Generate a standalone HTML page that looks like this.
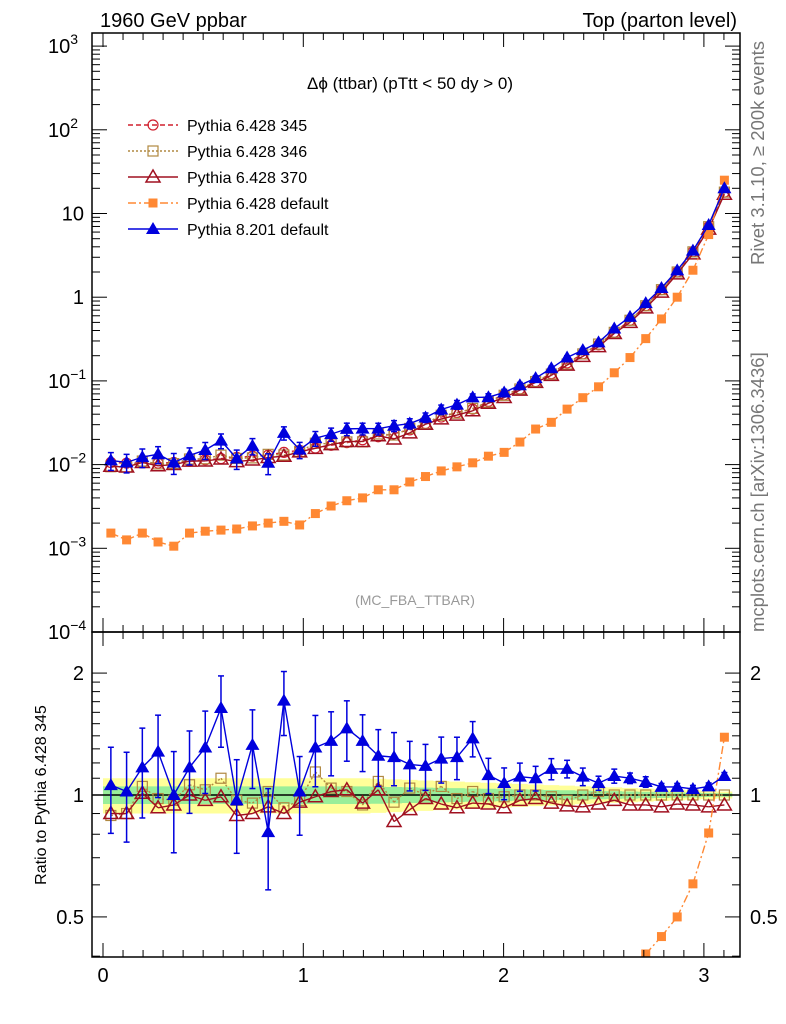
<!DOCTYPE html>
<html><head><meta charset="utf-8"><style>
html,body{margin:0;background:#fff;overflow:hidden;width:786px;height:1024px;}
svg{display:block;}
svg text{font-family:"Liberation Sans",sans-serif;}
</style></head><body>
<svg id="chart" width="786" height="1024" xmlns="http://www.w3.org/2000/svg">
<defs>
<clipPath id="cm"><rect x="92" y="33" width="648" height="599"/></clipPath>
<clipPath id="cr"><rect x="92" y="632" width="648" height="325"/></clipPath>
</defs>
<text x="100" y="27" font-size="20">1960 GeV ppbar</text>
<text x="737" y="27" font-size="20" text-anchor="end">Top (parton level)</text>
<text x="410" y="89" font-size="17" text-anchor="middle">Δϕ (ttbar) (pTtt &lt; 50 dy &gt; 0)</text>
<text x="415" y="605" font-size="14" fill="#999" text-anchor="middle">(MC_FBA_TTBAR)</text>
<text transform="translate(764,265) rotate(-90)" font-size="18.5" fill="#777">Rivet 3.1.10, ≥ 200k events</text>
<text transform="translate(764,632) rotate(-90)" font-size="18.5" fill="#777">mcplots.cern.ch [arXiv:1306.3436]</text>
<text transform="translate(46,795) rotate(-90)" font-size="16" text-anchor="middle">Ratio to Pythia 6.428 345</text>
<g id="g"></g>
</svg>
<script>
const ref345=[0.0106,0.0104,0.0105,0.0104,0.0106,0.011,0.0114,0.0118,0.0122,0.0126,0.013,0.014,0.0148,0.0158,0.017,0.0183,0.0198,0.0215,0.0235,0.026,0.031,0.037,0.042,0.046,0.057,0.068,0.080,0.098,0.122,0.164,0.21,0.27,0.38,0.53,0.79,1.23,2.0,3.48,6.95,18];
const r346=[0.89,0.90,1.05,0.98,0.97,1.06,1.03,1.1,0.97,0.955,1.02,0.93,0.97,1.14,1.04,1.02,0.945,1.08,0.96,1.04,1.0,1.05,0.98,1.02,0.98,0.99,1.0,1.0,0.99,0.97,1.0,1.02,1.0,1.0,1.0,1.0,1.0,1.0,1.0,1.0];
const r370=[0.9,0.9,1.01,0.93,0.945,1.0,0.97,0.99,0.89,0.9,0.935,0.9,0.96,0.99,1.02,1.03,0.955,1.03,0.86,0.92,0.98,0.95,0.93,0.955,0.95,0.93,0.97,0.98,0.955,0.94,0.935,0.95,0.97,0.945,0.945,0.935,0.95,0.945,0.935,0.945];
const rBlue=[1.058,1.02,1.17,1.28,1.0,1.17,1.31,1.64,0.97,1.33,0.81,1.71,1.02,1.31,1.36,1.46,1.36,1.25,1.24,1.19,1.18,1.23,1.24,1.38,1.12,1.07,1.11,1.10,1.16,1.16,1.11,1.07,1.114,1.10,1.077,1.047,1.047,1.035,1.05,1.114];
const eBlue=[0.24,0.25,0.25,0.23,0.28,0.23,0.23,0.2,0.26,0.22,0.28,0.18,0.22,0.2,0.18,0.17,0.16,0.16,0.15,0.14,0.13,0.13,0.12,0.1,0.1,0.09,0.08,0.07,0.06,0.05,0.05,0.04,0.04,0.03,0.03,0.02,0.02,0.02,0.02,0.02];
const orange=[0.00152,0.00126,0.00152,0.00119,0.00106,0.00152,0.0016,0.00165,0.0017,0.00185,0.002,0.0021,0.0019,0.0026,0.0032,0.0037,0.004,0.005,0.005,0.0062,0.0072,0.0084,0.0094,0.0105,0.0126,0.014,0.0186,0.0266,0.032,0.046,0.063,0.085,0.125,0.19,0.32,0.55,1.0,2.1,5.6,25];
const xTicks=[0,1,2,3];
const NS="http://www.w3.org/2000/svg";
const G=document.getElementById('g');
const X0=92,X1=740,MT=33,MB=632,RT=632,RB=957;
const xs=v=>103+v*200.3;
const ym=v=>632-(Math.log10(v)+4)*83.7;
const yr=v=>795-Math.log10(v)*405;
const N=ref345.length, bw=Math.PI/N;
const cx=i=>(i+0.5)*bw;
function el(t,a,p){const e=document.createElementNS(NS,t);for(const k in a)e.setAttribute(k,a[k]);(p||G).appendChild(e);return e;}
const gm=el('g',{'clip-path':'url(#cm)'});
const gr=el('g',{'clip-path':'url(#cr)'});
let yu='',yl='',gu='',gl='';
for(let i=0;i<N;i++){const w=i<16?0.1:Math.max(0.02,0.1-(i-16)*0.0035);
 const a=xs(i*bw),b=xs((i+1)*bw);
 yu+=`${a},${yr(1+w)} ${b},${yr(1+w)} `;yl=`${b},${yr(1-w)} ${a},${yr(1-w)} `+yl;
 gu+=`${a},${yr(1+w/2)} ${b},${yr(1+w/2)} `;gl=`${b},${yr(1-w/2)} ${a},${yr(1-w/2)} `+gl;}
let p=el('polygon',{points:yu+yl,fill:'#ffff99'},gr);


p=el('polygon',{points:gu+gl,fill:'#99ee99'},gr);


p=el('line',{x1:X0,x2:X1,y1:yr(1),y2:yr(1),stroke:'#000','stroke-width':1.5},gr);


function marker(kind,x,y,col,parent){
 if(kind==='circle')return el('circle',{cx:x,cy:y,r:5,fill:'none',stroke:col,'stroke-width':1.2},parent);
 if(kind==='sq')return el('rect',{x:x-5,y:y-5,width:10,height:10,fill:'none',stroke:col,'stroke-width':1.2},parent);
 if(kind==='fsq')return el('rect',{x:x-4.5,y:y-4.5,width:9,height:9,fill:col},parent);
 if(kind==='tri')return el('polygon',{points:`${x},${y-7} ${x-7},${y+5} ${x+7},${y+5}`,fill:'none',stroke:col,'stroke-width':1.5},parent);
 return el('polygon',{points:`${x},${y-7} ${x-7},${y+5} ${x+7},${y+5}`,fill:col},parent);
}
function clipSeg(x1,y1,x2,y2,t,b){
 const in1=y1>=t&&y1<=b,in2=y2>=t&&y2<=b;
 if(!in1&&!in2)return null;
 const f=(yy)=>{const lim=yy<t?t:b;return [x1+(x2-x1)*(lim-y1)/(y2-y1),lim];};
 let A=[x1,y1],B=[x2,y2];
 if(!in1){const lim=y1<t?t:b;A=[x1+(x2-x1)*(lim-y1)/(y2-y1),lim];}
 if(!in2){const lim=y2<t?t:b;B=[x1+(x2-x1)*(lim-y1)/(y2-y1),lim];}
 return [A,B];
}
const series=[
 {n:'pythia6-345',col:'#d0202f',dash:'5,3',m:'circle',main:ref345,ratio:null},
 {n:'pythia6-346',col:'#b08840',dash:'2,2',m:'sq',main:ref345.map((v,i)=>v*r346[i]),ratio:r346},
 {n:'pythia6-370',col:'#a01020',dash:'',m:'tri',main:ref345.map((v,i)=>v*r370[i]),ratio:r370},
 {n:'pythia6-default',col:'#ff8833',dash:'8,3,2,3',m:'fsq',main:orange,ratio:orange.map((v,i)=>v/ref345[i])},
 {n:'pythia8-default',col:'#0000dd',dash:'',m:'ftri',main:ref345.map((v,i)=>v*rBlue[i]),ratio:rBlue,err:eBlue}
];
series.forEach(s=>{
 [[gm,s.main,ym,'main',MT,MB],[gr,s.ratio,yr,'ratio',RT,RB]].forEach(([par,arr,yf,pn,T,B])=>{
  if(!arr)return;
  const g=el('g',{},par);
  
  
  for(let i=0;i<arr.length-1;i++){
   const c=clipSeg(xs(cx(i)),yf(arr[i]),xs(cx(i+1)),yf(arr[i+1]),T,B);
   if(!c)continue;
   const a={x1:c[0][0],y1:c[0][1],x2:c[1][0],y2:c[1][1],stroke:s.col,'stroke-width':1.4};if(s.dash)a['stroke-dasharray']=s.dash;
   el('line',a,g);
  }
  arr.forEach((v,i)=>{
   const x=xs(cx(i)),y=yf(v);
   if(y<T||y>B)return;
   if(s.err){const e=s.err[i];const yt=Math.max(T,yf(v*(1+e))),yb=Math.min(B,yf(v*(1-e)));
     el('line',{x1:x,x2:x,y1:yt,y2:yb,stroke:s.col,'stroke-width':1.5},g);
     el('line',{x1:x-3,x2:x+3,y1:yt,y2:yt,stroke:s.col,'stroke-width':1.5},g);
     el('line',{x1:x-3,x2:x+3,y1:yb,y2:yb,stroke:s.col,'stroke-width':1.5},g);}
   const mk=marker(s.m,x,y,s.col,g);
   
   
  });
 });
});
[[MT,MB],[RT,RB]].forEach(([t,b],k)=>{
 const f=el('rect',{x:X0,y:t,width:X1-X0,height:b-t,fill:'none',stroke:'#000','stroke-width':1.5});
 
 
 for(let v=0;v<=3.15;v+=0.1){const x=xs(v);const maj=Math.abs(v-Math.round(v))<1e-6;const L=maj?14:7;
  el('line',{x1:x,x2:x,y1:b,y2:b-L,stroke:'#000'});el('line',{x1:x,x2:x,y1:t,y2:t+L,stroke:'#000'});}
});
for(let d=-4;d<=3;d++){for(let m=1;m<10;m++){const v=m*Math.pow(10,d);const y=ym(v);if(y<MT||y>MB)continue;const L=m===1?15:8;
 el('line',{x1:X0,x2:X0+L,y1:y,y2:y,stroke:'#000'});el('line',{x1:X1,x2:X1-L,y1:y,y2:y,stroke:'#000'});}}
const yLab=[[3,'10','3'],[2,'10','2'],[1,'10',''],[0,'1',''],[-1,'10','−1'],[-2,'10','−2'],[-3,'10','−3'],[-4,'10','−4']];
yLab.forEach(([d,b,e])=>{const y=ym(Math.pow(10,d));
 const t=el('text',{x:84,y:y+7,'font-size':20,'text-anchor':'end'});
 
 
 t.textContent=b;
 if(e){const s=el('tspan',{dy:-9,'font-size':14},t);s.textContent=e;t.setAttribute('text-anchor','start');t.setAttribute('x',48);}
});
for(let v=0.4;v<=2.5;v+=(v<2-1e-9?0.1:0.5)){const y=yr(v);if(y<RT||y>RB)continue;
 const maj=[0.5,1,2].some(m=>Math.abs(m-v)<1e-6);const L=maj?15:8;
 el('line',{x1:X0,x2:X0+L,y1:y,y2:y,stroke:'#000'});el('line',{x1:X1,x2:X1-L,y1:y,y2:y,stroke:'#000'});}
[[2,'2'],[1,'1'],[0.5,'0.5']].forEach(([v,s])=>{[[84,'end'],[750,'start']].forEach(([x,a])=>{
 const t=el('text',{x:x,y:yr(v)+7,'font-size':20,'text-anchor':a});
 
 
 t.textContent=s;});});
xTicks.forEach(v=>{const t=el('text',{x:xs(v),y:982,'font-size':20,'text-anchor':'middle'});
 
 
 t.textContent=v;});
const leg=[['Pythia 6.428 345',0],['Pythia 6.428 346',1],['Pythia 6.428 370',2],['Pythia 6.428 default',3],['Pythia 8.201 default',4]];
leg.forEach(([lab,k],j)=>{const s=series[k];const y=125+j*26;
 const g=el('g',{});
 
 
 const a={x1:128,x2:178,y1:y,y2:y,stroke:s.col,'stroke-width':1.4};if(s.dash)a['stroke-dasharray']=s.dash;
 el('line',a,g);marker(s.m,153,y,s.col,g);
 const t=el('text',{x:187,y:y+6,'font-size':16},g);t.textContent=lab;});
</script>
</body></html>
